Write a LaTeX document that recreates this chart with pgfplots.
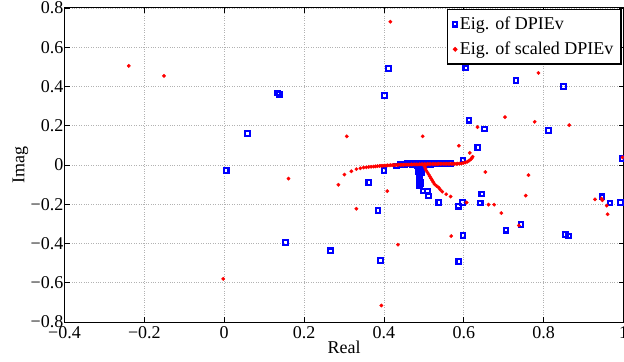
\documentclass[border=0pt]{standalone}
\usepackage{pgfplots}
\pgfplotsset{compat=1.18}
\usepackage{fontspec}
\setmainfont{Liberation Serif}
\newcommand{\bigf}{\fontsize{18bp}{21bp}\selectfont}
\begin{document}
\begin{tikzpicture}
\begin{axis}[
  scale only axis, width=559bp, height=314bp,
  xmin=-0.4, xmax=1, ymin=-0.8, ymax=0.8,
  xtick={-0.4,-0.2,0,0.2,0.4,0.6,0.8,1},
  ytick={-0.8,-0.6,-0.4,-0.2,0,0.2,0.4,0.6,0.8},
  xticklabels={−0.4,−0.2,0,0.2,0.4,0.6,0.8,1},
  yticklabels={−0.8,−0.6,−0.4,−0.2,0,0.2,0.4,0.6,0.8},
  tick label style={font=\bigf},
  yticklabel style={inner xsep=1bp},
  xticklabel style={inner ysep=4bp},
  grid=major, grid style={dotted, gray!60, line width=0.8bp},
  tick align=inside, major tick length=5bp,
  tick style={black, line width=0.8bp},
  axis line style={black, line width=1bp},
  xlabel={Real}, ylabel={Imag},
  label style={font=\bigf},
  xlabel style={at={(axis description cs:0.5,0)}, anchor=north, yshift=-19bp, inner sep=0pt},
  ylabel style={at={(axis description cs:-0.0644,0.5)}, anchor=south, inner sep=0pt},
  legend style={at={(rel axis cs:1,1)}, anchor=north east, xshift=-2bp, yshift=-1bp,
    draw=black, line width=1.2bp, font=\bigf, inner xsep=5bp, inner ysep=5bp,
    row sep=6bp, nodes={inner sep=2.5bp}},
  legend cell align=left,
  legend image code/.code={\draw[mark repeat=2,mark phase=2,#1] plot coordinates {(0bp,0bp)(6bp,0bp)(12bp,0bp)};},
]
% Eigenvalues of DPIEv (blue squares)
\addplot[only marks, mark=square, mark size=2.3bp, color=blue, mark options={line width=2.1bp}] coordinates {
(0.005,-0.029) (0.058,0.160) (0.133,0.367) (0.139,0.359) (0.153,-0.396) (0.266,-0.437)
(0.362,-0.090) (0.385,-0.231) (0.392,-0.486) (0.400,-0.027) (0.402,0.354) (0.412,0.492)
(0.431,-0.005) (0.5375,-0.192) (0.566,0.007) (0.587,-0.210) (0.5875,-0.493) (0.597,-0.190)
(0.598,0.026) (0.598,-0.359) (0.605,0.495) (0.613,0.228) (0.635,0.090) (0.641,-0.194)
(0.645,-0.148) (0.652,0.184) (0.706,-0.332) (0.731,0.431) (0.7435,-0.304) (0.812,0.175)
(0.850,0.400) (0.855,-0.354) (0.8625,-0.362) (0.946,-0.162) (0.966,-0.193) (0.992,-0.190)
(0.996,0.033)
(0.489,-0.104) (0.492,-0.087) (0.4975,-0.133) (0.5085,-0.133) (0.512,-0.158)
(0.440,0.004) (0.446,0.005) (0.452,0.004) (0.458,0.006) (0.463,0.005) (0.468,0.007)
(0.472,0.004) (0.476,0.008) (0.480,0.003) (0.483,0.008) (0.486,0.004) (0.489,0.009)
(0.492,0.003) (0.495,0.008) (0.498,0.004) (0.502,0.008) (0.506,0.004) (0.511,0.007)
(0.516,0.004) (0.522,0.007) (0.528,0.005) (0.535,0.006) (0.542,0.005) (0.550,0.006)
(0.558,0.006)
(0.484,-0.005) (0.485,-0.015) (0.486,-0.025) (0.487,-0.035) (0.488,-0.045) (0.488,-0.055)
(0.489,-0.065) (0.489,-0.075) (0.490,-0.085) (0.491,-0.095)
(0.493,-0.008) (0.493,-0.018) (0.494,-0.028) (0.494,-0.040)
};
\addlegendentry{Eig. of DPIEv}
% Eigenvalues of scaled DPIEv (red dots)
\addplot[only marks, mark=*, mark size=1.7bp, color=red] coordinates {
(-0.239,0.505) (-0.151,0.454) (-0.0025,-0.580) (0.161,-0.069) (0.286,-0.101) (0.307,0.146)
(0.331,-0.223) (0.3935,-0.716) (0.4085,-0.133) (0.416,0.730) (0.435,-0.406) (0.497,0.146)
(0.5685,-0.362) (0.5875,0.098) (0.607,-0.191) (0.615,0.062) (0.6345,0.193) (0.654,-0.036)
(0.662,-0.202) (0.676,-0.202) (0.694,-0.245) (0.703,0.244) (0.738,-0.308) (0.755,-0.156)
(0.762,-0.052) (0.7775,0.220) (0.787,0.469) (0.864,0.203) (0.9285,-0.175) (0.945,-0.171)
(0.947,-0.180) (0.958,-0.207) (0.960,-0.251) (0.9975,0.039)
(0.502,-0.008) (0.504,-0.018) (0.506,-0.028) (0.509,-0.038) (0.512,-0.048) (0.515,-0.058)
(0.518,-0.068) (0.521,-0.078) (0.524,-0.088) (0.527,-0.098) (0.532,-0.107) (0.537,-0.115)
(0.541,-0.125) (0.546,-0.136) (0.556,-0.149) (0.567,-0.161)
(0.301,-0.049) (0.3185,-0.032) (0.331,-0.021) (0.341,-0.017) (0.349,-0.013) (0.356,-0.012)
(0.362,-0.010) (0.368,-0.009) (0.374,-0.008) (0.379,-0.007) (0.384,-0.006) (0.389,-0.005)
(0.393,-0.004) (0.397,-0.004) (0.401,-0.003) (0.405,-0.003) (0.409,-0.002) (0.413,-0.002)
(0.417,-0.001) (0.421,-0.001) (0.425,0.000) (0.429,0.000) (0.433,0.000) (0.437,0.001)
(0.441,0.001) (0.445,0.001) (0.449,0.001) (0.453,0.002) (0.457,0.002) (0.461,0.002)
(0.465,0.002) (0.469,0.003) (0.473,0.003) (0.477,0.003) (0.481,0.003) (0.485,0.003)
(0.489,0.004) (0.493,0.004) (0.497,0.004) (0.501,0.004) (0.505,0.004) (0.509,0.005)
(0.513,0.005) (0.517,0.005) (0.521,0.005) (0.525,0.005) (0.529,0.005) (0.533,0.005)
(0.537,0.006) (0.541,0.006) (0.545,0.006) (0.549,0.006) (0.553,0.006) (0.557,0.006)
(0.561,0.006) (0.565,0.006) (0.569,0.006) (0.573,0.006) (0.577,0.006) (0.581,0.006)
(0.585,0.007) (0.589,0.007) (0.594,0.008) (0.599,0.010) (0.604,0.013) (0.609,0.017)
(0.613,0.022) (0.617,0.028) (0.620,0.035) (0.622,0.042)
};
\addlegendentry{Eig. of scaled DPIEv}
\end{axis}
\pgfresetboundingbox
\path[use as bounding box] (-64.5bp,-40bp) rectangle (559.5bp,322bp);
\end{tikzpicture}
\end{document}
